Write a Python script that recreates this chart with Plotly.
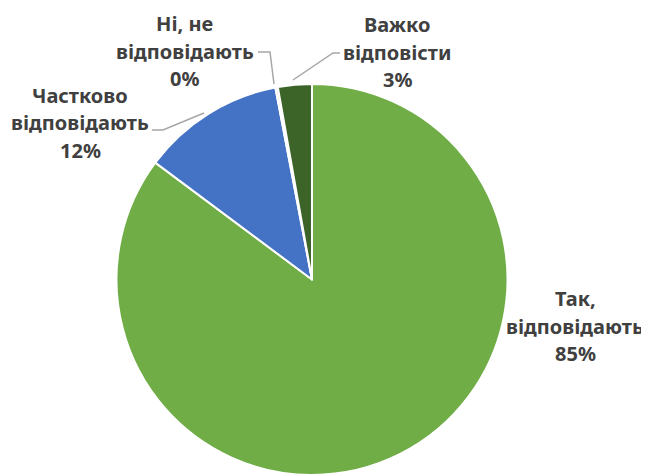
import plotly.graph_objects as go

# Survey answers (share of respondents)
labels = ["Так,<br>відповідають", "Частково<br>відповідають", "Ні, не<br>відповідають", "Важко<br>відповісти"]
values = [85.2, 11.8, 0.2, 2.8]
colors = ["#70AD47", "#4472C4", "#D9D9D9", "#3C6428"]

# page body has an 8px margin, so the figure is a little smaller than the window
OFF = 8
W, H = 649 - OFF, 475 - OFF
LINE = 27.5  # label line spacing, px


def px(x, y):
    """Window pixel position -> paper coordinates."""
    return (x - OFF) / W, 1 - (y - OFF) / H


# label block centres and leader lines, in window pixels
label_pos = [(575, 326), (80, 123), (185, 51), (397, 52)]
leaders = [
    None,
    [(152, 130), (163, 130), (204, 113)],
    [(258, 52), (270, 52), (274, 84)],
    [(340, 53), (333, 53), (293, 80)],
]

total = sum(values)

fig = go.Figure(
    go.Pie(
        labels=labels,
        values=values,
        sort=False,
        direction="clockwise",
        rotation=0,
        marker={"colors": colors, "line": {"color": "white", "width": 2}},
        textinfo="none",
        hoverinfo="label+percent",
        domain={"x": [(116 - OFF) / W, (508 - OFF) / W], "y": [0, 1 - (84 - OFF) / H]},
    )
)

for lab, v, (cx, cy) in zip(labels, values, label_pos):
    lines = lab.split("<br>") + [f"{v / total * 100:.0f}%"]
    n = len(lines)
    for i, line in enumerate(lines):
        x, y = px(cx, cy + (i - (n - 1) / 2) * LINE)
        fig.add_annotation(
            x=x, y=y, xref="paper", yref="paper",
            text=f"<b>{line}</b>",
            showarrow=False, xanchor="center", yanchor="middle", borderpad=0,
            font={"family": "Noto Sans", "size": 20, "color": "#404040"},
        )

for pts in leaders:
    if not pts:
        continue
    p = [px(*q) for q in pts]
    path = "M " + " L ".join(f"{a},{b}" for a, b in p)
    fig.add_shape(type="path", path=path, xref="paper", yref="paper",
                  line={"color": "#A6A6A6", "width": 1.5})

fig.update_layout(
    width=W, height=H,
    margin={"l": 0, "r": 0, "t": 0, "b": 0},
    showlegend=False,
    paper_bgcolor="white",
    plot_bgcolor="white",
)

fig.write_html("out.html")
